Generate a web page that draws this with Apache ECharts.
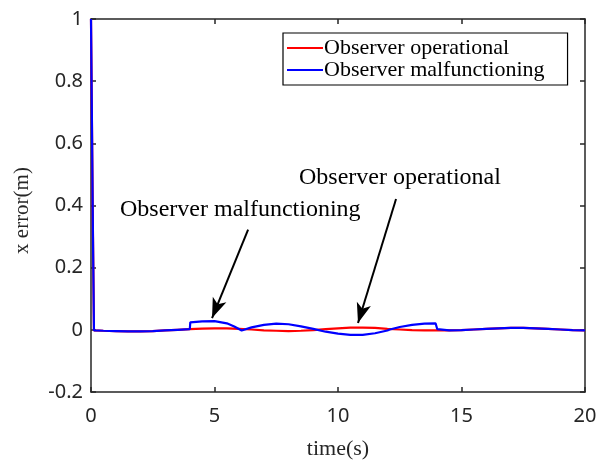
<!DOCTYPE html>
<html>
<head>
<meta charset="utf-8">
<script src="https://cdn.jsdelivr.net/npm/echarts@6/dist/echarts.min.js"></script>
<style>
  html, body { margin: 0; padding: 0; background: #fff; }
  #chart { width: 611px; height: 463px; }
</style>
</head>
<body>
<div id="chart"></div>
<script>
// time samples and x error values
const tRed = [0, 0.08, 0.12, 0.2, 0.5, 1, 1.5, 2, 2.5, 3, 3.5, 4, 4.5, 5, 5.5, 6, 6.5, 7, 7.5, 8, 8.5, 9, 9.5, 10,
  10.5, 11, 11.5, 12, 12.5, 13, 13.5, 14, 14.5, 15, 15.5, 16, 16.5, 17, 17.5, 18, 18.5, 19, 19.5, 20];
const errRed = [1, 0.3, -0.002, -0.003, -0.003, -0.004, -0.005, -0.005, -0.004, -0.002, 0, 0.002, 0.004, 0.005, 0.005, 0.003, 0.001, -0.002, -0.003, -0.004,
  -0.003, -0.001, 0.002, 0.005, 0.007, 0.007, 0.006, 0.003, 0.001, -0.001, -0.002, -0.002, -0.002, -0.001, 0.001, 0.003, 0.005, 0.006, 0.006, 0.005,
  0.003, 0.001, -0.001, -0.002];

const tBlue = [0, 0.08, 0.12, 0.2, 0.5, 1, 1.5, 2, 2.5, 3, 3.5, 4, 4.02, 4.5, 5, 5.5, 5.8, 6.1, 6.5, 7, 7.5, 8, 8.5, 9, 9.5, 10,
  10.5, 11, 11.5, 12, 12.1, 12.5, 13, 13.5, 13.95, 14.02, 14.1, 14.5, 15, 15.5, 16, 16.5, 17, 17.5, 18, 18.5, 19, 19.5, 20];
const errBlue = [1, 0.3, -0.002, -0.003, -0.003, -0.004, -0.005, -0.005, -0.004, -0.002, 0, 0.002, 0.024, 0.027, 0.028, 0.021, 0.011, -0.002, 0.008, 0.016,
  0.02, 0.018, 0.011, 0.003, -0.006, -0.012, -0.016, -0.016, -0.011, -0.002, 0.001, 0.009, 0.016, 0.02, 0.021, 0.002, -0.002, -0.002, -0.001, 0.001,
  0.003, 0.005, 0.006, 0.006, 0.005, 0.003, 0.001, -0.001, -0.002];

const seriesNames = ["Observer operational", "Observer malfunctioning"];

// annotation arrows: [start, tip] in data coordinates
const arrowMal = [[6.36, 0.322], [4.9, 0.038]];
const arrowOp = [[12.35, 0.421], [10.81, 0.022]];

const serif = "'Liberation Serif', 'Times New Roman', serif";
const sans = "'Noto Sans', 'Open Sans', sans-serif";
const axisColor = "#262626";

const chart = echarts.init(document.getElementById("chart"));

function pairs(ts, vs) {
  return ts.map((t, i) => [t, vs[i]]);
}

function arrowLine(a) {
  return [{ coord: a[0] }, { coord: a[1] }];
}

const baseAxis = {
  min: 0,
  max: 20,
  interval: 5,
  axisLine: { show: true, onZero: false, lineStyle: { color: axisColor, width: 1.5 } },
  axisTick: { show: true, inside: true, length: 5, lineStyle: { color: axisColor, width: 1.5 } },
  splitLine: { show: false },
};

chart.setOption({
  animation: false,
  backgroundColor: "#fff",
  grid: { left: 91, right: 26, top: 19, bottom: 71, outerBoundsMode: "none", containLabel: false },
  legend: {
    data: seriesNames,
    orient: "vertical",
    left: 283,
    top: 33,
    padding: [4, 23, 4, 4],
    itemGap: 0,
    itemWidth: 36,
    itemHeight: 2,
    icon: "rect",
    borderColor: "#000",
    borderWidth: 1.2,
    textStyle: { fontFamily: serif, fontSize: 22, lineHeight: 22, color: "#000", padding: [0, 0, 0, -4] },
  },
  xAxis: [
    Object.assign({}, baseAxis, {
      type: "value",
      position: "bottom",
      name: "time(s)",
      nameLocation: "middle",
      nameGap: 46,
      nameTextStyle: { fontFamily: serif, fontSize: 22, color: axisColor },
      axisLabel: { fontFamily: sans, fontSize: 20, color: axisColor, margin: 14 },
    }),
    Object.assign({}, baseAxis, { type: "value", position: "top", axisLabel: { show: false } }),
  ],
  yAxis: [
    Object.assign({}, baseAxis, {
      type: "value",
      min: -0.2,
      max: 1,
      interval: 0.2,
      position: "left",
      name: "x error(m)",
      nameLocation: "middle",
      nameGap: 58,
      nameTextStyle: { fontFamily: serif, fontSize: 21, color: axisColor, padding: [0, 0, 0, -10] },
      axisLabel: { fontFamily: sans, fontSize: 20, color: axisColor, margin: 8,
        formatter: (v) => String(Math.round(v * 10) / 10) },
    }),
    Object.assign({}, baseAxis, {
      type: "value", min: -0.2, max: 1, interval: 0.2, position: "right", axisLabel: { show: false },
    }),
  ],
  series: [
    {
      name: seriesNames[0],
      type: "line",
      data: pairs(tRed, errRed),
      showSymbol: false,
      symbol: "none",
      color: "#ff0000",
      lineStyle: { color: "#ff0000", width: 2.2 },
      z: 2,
    },
    {
      name: seriesNames[1],
      type: "line",
      data: pairs(tBlue, errBlue),
      showSymbol: false,
      symbol: "none",
      color: "#0000ff",
      lineStyle: { color: "#0000ff", width: 2.2 },
      z: 3,
      markLine: {
        silent: true,
        symbol: ["none", "arrow"],
        symbolSize: [11, 20],
        label: { show: false },
        lineStyle: { color: "#000", width: 2, type: "solid" },
        data: [arrowLine(arrowMal), arrowLine(arrowOp)],
      },
    },
  ],
  graphic: [
    {
      type: "text",
      left: 120,
      top: 198,
      style: { text: "Observer malfunctioning", font: "24px " + serif, fill: "#000" },
    },
    {
      type: "text",
      left: 299,
      top: 166,
      style: { text: "Observer operational", font: "24px " + serif, fill: "#000" },
    },
  ],
});
</script>
</body>
</html>
